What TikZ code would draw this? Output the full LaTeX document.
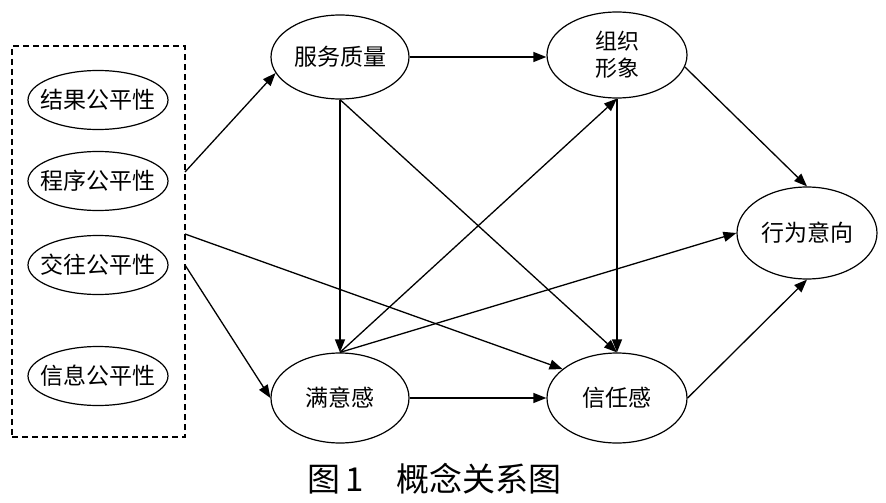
\documentclass[tikz,border=0pt]{standalone}
\usepackage{fontspec}
\setmainfont{Noto Sans CJK SC}
\usetikzlibrary{shapes.geometric,arrows.meta}
\tikzset{
  concept/.style={draw, ellipse, line width=1.2pt, inner sep=0pt, inner xsep=-20pt,
    minimum width=138pt, minimum height=86pt, font=\fontsize{23}{27}\selectfont},
  fair/.style={draw, ellipse, line width=1.2pt, inner sep=0pt, inner xsep=-20pt,
    minimum width=140pt, minimum height=59pt, font=\fontsize{23}{27}\selectfont},
  link/.style={line width=1.3pt, -{Triangle[length=13pt,width=10pt]}},
  groupbox/.style={draw, line width=1.4pt, dash pattern=on 6pt off 4pt},
}
\begin{document}
\begin{tikzpicture}[x=1pt,y=-1pt]
\useasboundingbox (0,0) rectangle (886,503);
% group box
\node[groupbox, minimum width=173pt, minimum height=391pt, inner sep=0pt] (grp) at (98.5,241.5) {};
\node[fair] (f1) at (98,100) {结果公平性};
\node[fair] (f2) at (98,181) {程序公平性};
\node[fair] (f3) at (98,265) {交往公平性};
\node[fair] (f4) at (98,376) {信息公平性};
% concepts
\node[concept, minimum height=84pt] (fuwu) at (340,57) {服务质量};
\node[concept, minimum width=140pt, align=center, font=\fontsize{22}{27}\selectfont] (zuzhi) at (617,55) {组织\\形象};
\node[concept, minimum height=90pt] (manyi) at (340,398) {满意感};
\node[concept, minimum width=140pt, minimum height=90pt] (xinren) at (617,398) {信任感};
\node[concept, minimum width=140pt, minimum height=92pt] (xingwei) at (807,233) {行为意向};
% box anchors
\coordinate (b1) at (185,172);
\coordinate (b2) at (185,234);
\coordinate (b3) at (185,265);
% connectors
\draw[link] (b1) -- (fuwu.194);
\draw[link] (b2) -- (xinren.152);
\draw[link] (b3) -- (manyi.west);
\draw[link] (fuwu.east) -- (zuzhi.west |- fuwu.east);
\draw[link] (fuwu.south) -- (manyi.north);
\draw[link] (fuwu.south) -- (xinren.north);
\draw[link] (manyi.north) -- (zuzhi.south);
\draw[link] (manyi.north) -- (xingwei.west);
\draw[link] (manyi.east) -- (xinren.west);
\draw[link] (zuzhi.south) -- (xinren.north);
\draw[link] (zuzhi.-10) -- (xingwei.north);
\draw[link] (xinren.east) -- (xingwei.south);
% caption
\node[font=\fontsize{33}{36}\selectfont, inner sep=0pt] (cap) at (434.5,479) {图\,1\hspace{1em}概念关系图};
\end{tikzpicture}
\end{document}
